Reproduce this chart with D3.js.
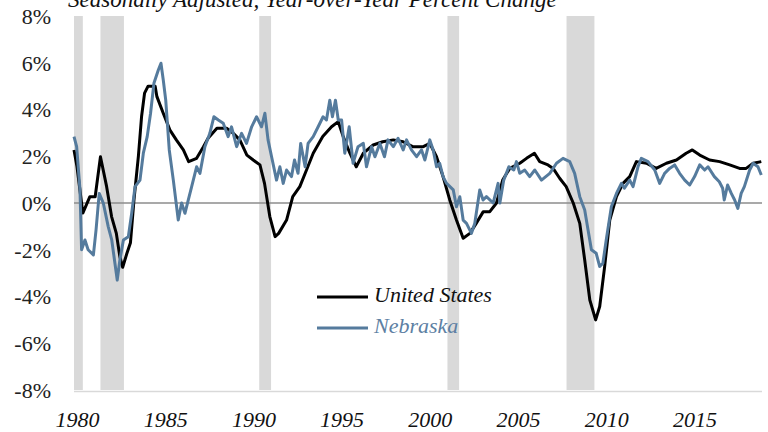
<!DOCTYPE html>
<html>
<head>
<meta charset="utf-8">
<script src="https://cdn.jsdelivr.net/npm/d3@7"></script>
<style>
  body { margin: 0; background: #fff; }
  svg { display: block; }
  svg text { font-family: "Liberation Serif", "DejaVu Serif", "Noto Serif", "Times New Roman", Times, serif; }
</style>
</head>
<body>
<script>
// values, year-over-year % change
var usYears = [1980.0, 1980.17, 1980.5, 1980.9, 1981.2, 1981.5, 1981.85, 1982.13, 1982.4, 1982.6, 1982.76, 1983.0, 1983.2, 1983.4, 1983.65, 1983.83, 1984.0, 1984.2, 1984.6, 1984.7, 1985.06, 1985.44, 1985.8, 1986.2, 1986.5, 1986.95, 1987.33, 1987.6, 1988.1, 1988.65, 1989.03, 1989.4, 1989.8, 1990.16, 1990.54, 1990.8, 1991.1, 1991.4, 1991.6, 1992.05, 1992.4, 1992.8, 1993.18, 1993.56, 1994.1, 1994.6, 1994.98, 1995.26, 1995.64, 1996.0, 1996.4, 1996.96, 1997.5, 1998.1, 1998.66, 1999.2, 1999.8, 2000.17, 2000.55, 2000.92, 2001.3, 2001.68, 2002.06, 2002.44, 2002.8, 2003.2, 2003.57, 2003.95, 2004.3, 2004.7, 2005.27, 2005.65, 2006.1, 2006.4, 2006.87, 2007.16, 2007.53, 2007.9, 2008.3, 2008.67, 2008.95, 2009.24, 2009.57, 2009.8, 2010.08, 2010.37, 2010.75, 2011.12, 2011.5, 2011.88, 2012.45, 2013.0, 2013.58, 2014.15, 2014.7, 2015.05, 2015.47, 2016.03, 2016.6, 2017.17, 2017.73, 2018.1, 2018.5, 2018.96];
var usValues = [2.27, 1.55, -0.43, 0.27, 0.27, 1.98, 0.7, -0.58, -1.3, -2.3, -2.75, -2.15, -1.7, 0.13, 2.0, 3.7, 4.7, 5.0, 5.0, 4.55, 3.84, 3.12, 2.7, 2.27, 1.77, 1.91, 2.4, 2.77, 3.2, 3.2, 2.98, 2.7, 2.05, 1.84, 1.63, 0.84, -0.58, -1.44, -1.3, -0.73, 0.27, 0.7, 1.41, 2.13, 2.84, 3.26, 3.48, 2.84, 2.13, 1.55, 2.13, 2.48, 2.62, 2.7, 2.62, 2.41, 2.41, 2.55, 1.98, 1.13, 0.13, -0.73, -1.51, -1.3, -0.87, -0.37, -0.37, 0.0, 0.98, 1.48, 1.7, 1.91, 2.13, 1.77, 1.63, 1.48, 1.06, 0.7, 0.0, -0.87, -2.44, -4.15, -5.0, -4.43, -2.72, -0.73, 0.27, 0.84, 1.13, 1.77, 1.7, 1.48, 1.7, 1.84, 2.13, 2.27, 2.05, 1.84, 1.77, 1.63, 1.48, 1.48, 1.7, 1.77];

var neYears = [1980.0, 1980.15, 1980.34, 1980.43, 1980.62, 1980.8, 1981.1, 1981.25, 1981.43, 1981.66, 1981.94, 1982.14, 1982.32, 1982.45, 1982.6, 1982.8, 1983.08, 1983.27, 1983.46, 1983.74, 1983.93, 1984.15, 1984.34, 1984.53, 1984.78, 1984.93, 1985.06, 1985.2, 1985.4, 1985.63, 1985.91, 1986.1, 1986.29, 1986.48, 1986.67, 1986.95, 1987.14, 1987.42, 1987.7, 1987.93, 1988.18, 1988.46, 1988.74, 1988.93, 1989.22, 1989.5, 1989.78, 1990.07, 1990.35, 1990.63, 1990.82, 1991.0, 1991.2, 1991.48, 1991.67, 1991.86, 1992.05, 1992.33, 1992.5, 1992.7, 1992.85, 1993.1, 1993.27, 1993.56, 1993.84, 1994.12, 1994.31, 1994.5, 1994.65, 1994.82, 1994.98, 1995.17, 1995.35, 1995.6, 1995.82, 1996.1, 1996.4, 1996.58, 1996.87, 1997.06, 1997.34, 1997.6, 1997.8, 1998.1, 1998.37, 1998.66, 1998.85, 1999.13, 1999.42, 1999.7, 1999.89, 2000.17, 2000.36, 2000.55, 2000.73, 2000.92, 2001.12, 2001.5, 2001.68, 2001.87, 2002.06, 2002.25, 2002.53, 2002.72, 2003.0, 2003.19, 2003.38, 2003.76, 2004.04, 2004.14, 2004.36, 2004.65, 2004.93, 2005.08, 2005.27, 2005.55, 2005.83, 2006.12, 2006.5, 2006.97, 2007.35, 2007.72, 2008.1, 2008.38, 2008.67, 2008.95, 2009.14, 2009.33, 2009.6, 2009.8, 2009.98, 2010.17, 2010.46, 2010.75, 2011.03, 2011.2, 2011.5, 2011.69, 2011.97, 2012.16, 2012.54, 2012.92, 2013.2, 2013.48, 2013.76, 2014.05, 2014.33, 2014.62, 2014.9, 2015.18, 2015.47, 2015.75, 2015.94, 2016.3, 2016.58, 2016.77, 2016.86, 2017.05, 2017.26, 2017.45, 2017.63, 2017.82, 2018.0, 2018.3, 2018.5, 2018.77, 2018.96];
var neValues = [2.84, 2.41, 0.56, -2.0, -1.58, -2.0, -2.22, -1.15, 0.41, 0.0, -1.01, -1.58, -2.58, -3.3, -2.44, -1.58, -1.44, -0.44, 0.7, 0.98, 2.13, 2.84, 3.84, 5.12, 5.69, 5.98, 5.26, 4.4, 2.27, 0.98, -0.73, 0.0, -0.44, 0.13, 0.7, 1.55, 1.27, 2.41, 2.98, 3.69, 3.55, 3.41, 2.84, 3.26, 2.41, 2.98, 2.55, 3.26, 3.69, 3.26, 3.84, 2.7, 1.98, 0.98, 1.55, 0.84, 1.41, 1.13, 1.84, 1.27, 2.55, 1.55, 2.55, 2.84, 3.26, 3.69, 3.55, 4.4, 3.69, 4.4, 3.55, 3.55, 2.13, 3.26, 1.7, 2.41, 2.55, 1.55, 2.41, 1.98, 2.55, 1.98, 2.7, 2.41, 2.77, 2.27, 2.7, 2.27, 1.98, 2.27, 1.84, 2.7, 2.27, 1.55, 1.7, 1.13, 0.84, 0.56, -0.16, 0.27, -0.73, -0.87, -1.3, -0.87, 0.56, 0.13, 0.27, 0.0, 0.84, 0.0, 0.98, 1.55, 1.41, 1.77, 1.27, 1.41, 1.13, 1.41, 0.98, 1.27, 1.7, 1.91, 1.77, 1.27, 0.27, -0.3, -1.15, -2.0, -2.15, -2.72, -2.58, -1.58, -0.16, 0.41, 0.84, 0.63, 0.98, 0.7, 1.55, 1.91, 1.77, 1.41, 0.84, 1.27, 1.48, 1.63, 1.27, 0.98, 0.77, 1.13, 1.63, 1.41, 1.55, 1.13, 0.91, 0.63, 0.13, 0.77, 0.41, 0.13, -0.23, 0.41, 0.7, 1.41, 1.7, 1.55, 1.2];

// recession periods (start, end)
var recessionStart = [1980.0, 1981.5, 1990.5, 2001.17, 2007.92];
var recessionEnd = [1980.5, 1982.83, 1991.17, 2001.83, 2009.5];

var yTicks = [-8, -6, -4, -2, 0, 2, 4, 6, 8];
var xTicks = [1980, 1985, 1990, 1995, 2000, 2005, 2010, 2015];
var seriesNames = ["United States", "Nebraska"];

var width = 768, height = 432;
var margin = {top: 16, right: 6, bottom: 42, left: 74};
var blue = "#557b9d";

const svg = d3.select("body")
    .append("svg")
    .attr("width", width)
    .attr("height", height);

var xscale = d3.scaleLinear()
    .domain([1980, 2019])
    .range([margin.left, width - margin.right]);

var yscale = d3.scaleLinear()
    .domain([-8, 8])
    .range([height - margin.bottom, margin.top]);

// title, cut off at the top like the source image
svg.append("text")
    .attr("x", 68)
    .attr("y", 7)
    .attr("font-size", 23)
    .attr("font-style", "italic")
    .attr("fill", "#111")
    .text("Seasonally Adjusted, Year-over-Year Percent Change");

// recession shading
var rec = recessionStart.map((s, i) => ({s: s, e: recessionEnd[i]}));
svg.append("g").selectAll("rect")
    .data(rec)
    .join("rect")
    .attr("x", d => xscale(d.s))
    .attr("width", d => xscale(d.e) - xscale(d.s))
    .attr("y", yscale(8))
    .attr("height", yscale(-8) - yscale(8))
    .attr("fill", "#d9d9d9");

// bottom axis line
svg.append("line")
    .attr("x1", xscale(1980)).attr("x2", xscale(2019))
    .attr("y1", yscale(-8) + 1.5).attr("y2", yscale(-8) + 1.5)
    .attr("stroke", "#d9d9d9")
    .attr("stroke-width", 1.5);

// zero line
svg.append("line")
    .attr("x1", xscale(1980)).attr("x2", xscale(2019))
    .attr("y1", yscale(0)).attr("y2", yscale(0))
    .attr("stroke", "#8c8c8c")
    .attr("stroke-width", 1.5);

// y-axis
svg.append("g")
    .attr("transform", `translate(${margin.left - 23},0)`)
    .call(d3.axisLeft(yscale).tickValues(yTicks).tickSize(0).tickPadding(0)
        .tickFormat(d => d + "%"))
    .call(g => g.attr("font-family", null))
    .call(g => g.select(".domain").remove())
    .call(g => g.selectAll("text")
        .attr("font-size", 22)
        .attr("fill", "#222")
        .attr("dy", "0.34em"));

// x-axis
svg.append("g")
    .attr("transform", `translate(3,${height - margin.bottom})`)
    .call(d3.axisBottom(xscale).tickValues(xTicks).tickSize(0).tickPadding(21)
        .tickFormat(d3.format("d")))
    .call(g => g.attr("font-family", null))
    .call(g => g.select(".domain").remove())
    .call(g => g.selectAll("text")
        .attr("font-style", "italic")
        .attr("font-size", 22)
        .attr("fill", "#111"));

var line = d3.line()
    .x(d => xscale(d[0]))
    .y(d => yscale(d[1]));

var usData = usYears.map((y, i) => [y, usValues[i]]);
var neData = neYears.map((y, i) => [y, neValues[i]]);

svg.append("path")
    .datum(usData)
    .attr("fill", "none")
    .attr("stroke", "#000")
    .attr("stroke-width", 3)
    .attr("stroke-linejoin", "round")
    .attr("d", line);

svg.append("path")
    .datum(neData)
    .attr("fill", "none")
    .attr("stroke", blue)
    .attr("stroke-width", 3)
    .attr("stroke-linejoin", "round")
    .attr("d", line);

// legend
var legend = svg.append("g").attr("transform", "translate(317,302)");
var legendColors = ["#000", blue];
seriesNames.forEach((name, i) => {
    legend.append("line")
        .attr("x1", 0).attr("x2", 51)
        .attr("y1", i * 31 - 5).attr("y2", i * 31 - 5)
        .attr("stroke", legendColors[i])
        .attr("stroke-width", 3);
    legend.append("text")
        .attr("x", 57)
        .attr("y", i * 31)
        .attr("font-size", 22)
        .attr("font-style", "italic")
        .attr("fill", i == 0 ? "#111" : "#5d80a3")
        .text(name);
});
</script>
</body>
</html>
